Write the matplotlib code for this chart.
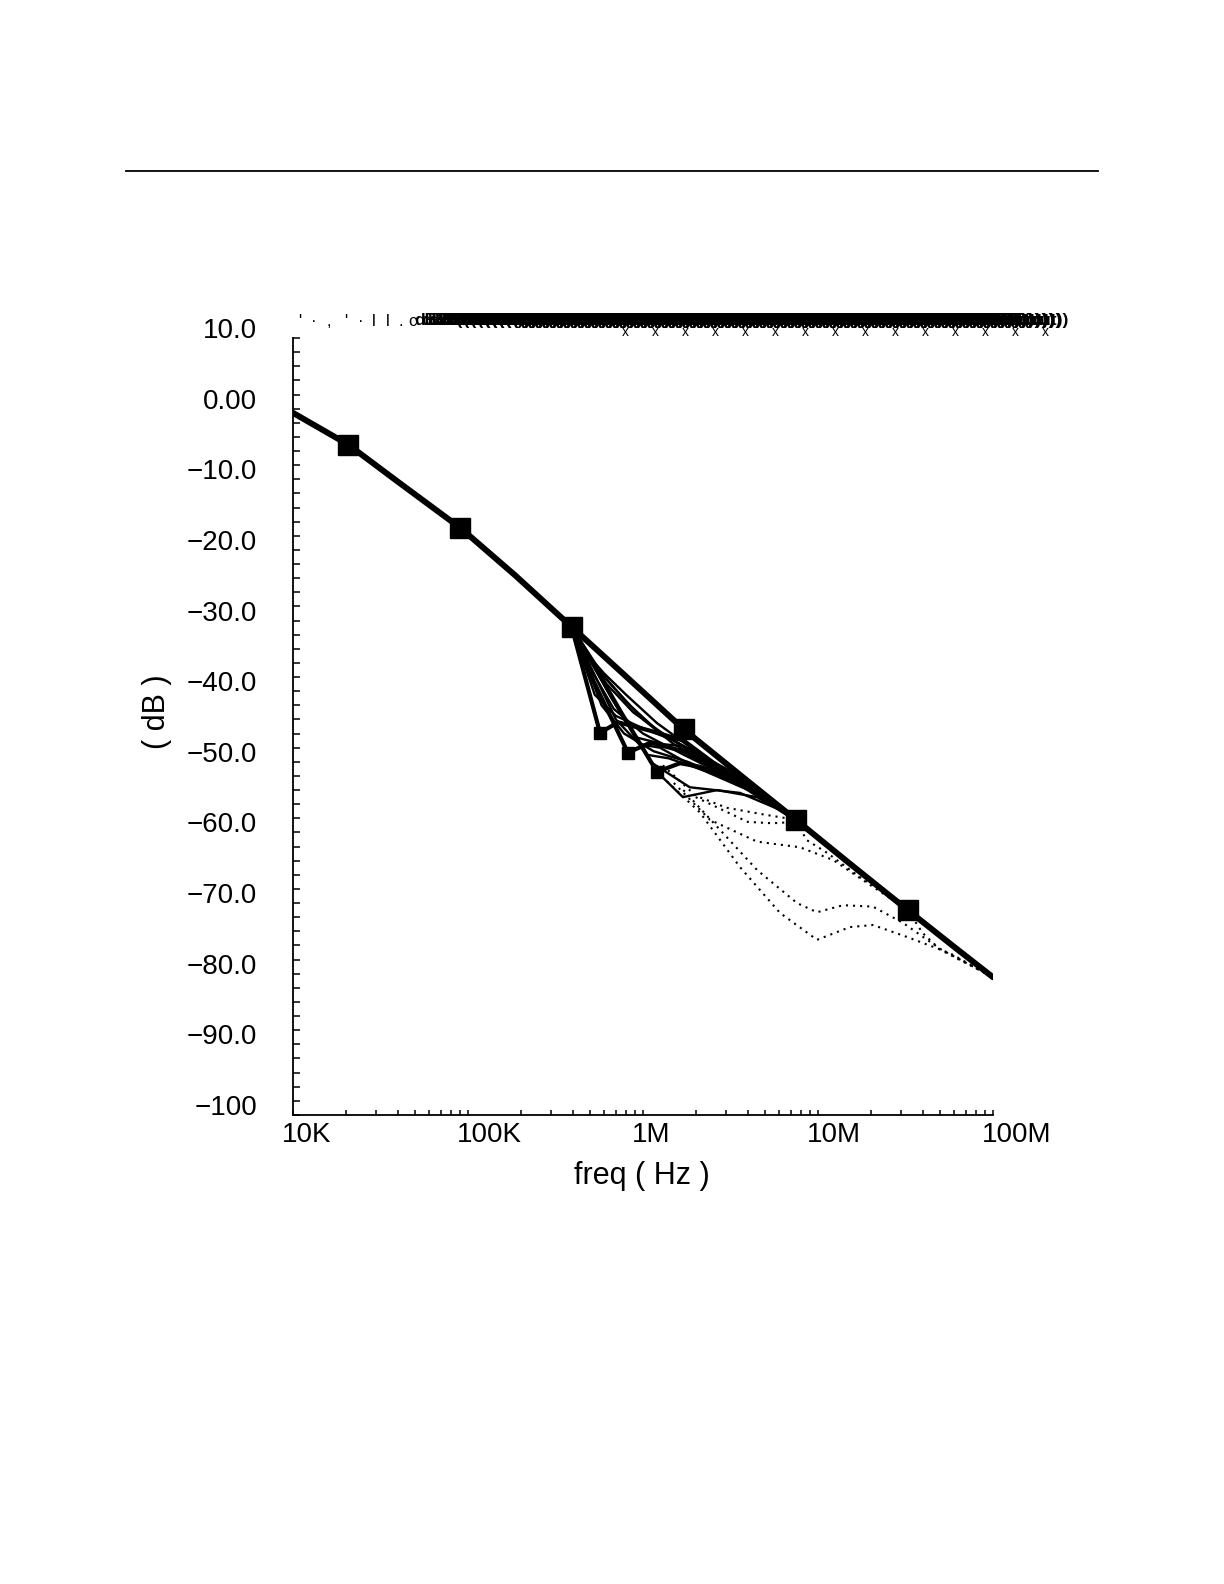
import matplotlib
matplotlib.use("Agg")
import matplotlib.pyplot as plt
import numpy as np
from matplotlib.lines import Line2D

plt.rcParams['font.family'] = ['Liberation Sans', 'DejaVu Sans']

# main (envelope) response
freq_main = [1e4, 20.7e3, 40e3, 90.6e3, 186e3, 300e3, 391e3, 700e3, 1.71e6,
             4e6, 7.47e6, 15e6, 32.6e6, 60e6, 1e8]
db_main = [-0.6, -5.1, -10.4, -16.9, -23.6, -28.3, -30.9, -36.6, -45.4,
           -52.8, -58.2, -64.3, -71.0, -76.2, -80.5]

marker_freq = [20.7e3, 90.6e3, 391e3, 1.71e6, 7.47e6, 32.6e6]
marker_db = [-5.1, -16.9, -30.9, -45.4, -58.2, -71.0]

# traces with the sharp dips just after 400K
zigzag_traces = [
    ([391e3, 568e3, 720e3, 1.1e6, 1.71e6, 3e6, 7.47e6],
     [-30.9, -45.9, -44.4, -45.6, -47.0, -51.5, -58.2]),
    ([391e3, 520e3, 820e3, 1.1e6, 1.71e6, 3.5e6, 7.47e6],
     [-30.9, -38.5, -48.7, -47.3, -48.5, -53.0, -58.2]),
    ([391e3, 750e3, 1.2e6, 1.63e6, 2.12e6, 3.02e6, 4.25e6, 7.47e6],
     [-30.9, -43.0, -51.4, -50.2, -50.7, -52.1, -53.6, -58.2]),
]

# bundle of solid traces between the dips and the envelope
solid_traces = [
    ([391e3, 640e3, 900e3, 1.3e6, 1.71e6, 7.47e6],
     [-30.9, -40.0, -46.5, -47.5, -47.8, -58.2]),
    ([391e3, 600e3, 1.0e6, 1.5e6, 2.5e6, 7.47e6],
     [-30.9, -38.0, -44.0, -47.5, -50.5, -58.2]),
    ([391e3, 560e3, 800e3, 1.2e6, 2.0e6, 7.47e6],
     [-30.9, -37.0, -41.5, -45.5, -49.0, -58.2]),
    ([391e3, 480e3, 680e3, 1.0e6, 1.71e6, 3e6, 7.47e6],
     [-30.9, -36.0, -42.5, -46.0, -49.0, -52.0, -58.2]),
    ([391e3, 660e3, 1.05e6, 1.4e6, 2.4e6, 4.5e6, 7.47e6],
     [-30.9, -41.0, -49.0, -49.5, -51.5, -54.5, -58.2]),
    ([391e3, 530e3, 700e3, 950e3, 1.5e6, 3e6, 7.47e6],
     [-30.9, -40.5, -43.5, -45.0, -47.0, -51.0, -58.2]),
    ([391e3, 500e3, 620e3, 880e3, 1.3e6, 2.2e6, 7.47e6],
     [-30.9, -35.5, -39.0, -43.0, -46.0, -49.5, -58.2]),
    ([391e3, 580e3, 780e3, 1.15e6, 1.8e6, 3.5e6, 7.47e6],
     [-30.9, -42.0, -46.0, -48.5, -50.0, -53.0, -58.2]),
    ([391e3, 450e3, 600e3, 800e3, 1.2e6, 2.0e6, 7.47e6],
     [-30.9, -34.0, -37.5, -40.5, -44.5, -48.5, -58.2]),
    ([391e3, 700e3, 950e3, 1.25e6, 1.9e6, 4e6, 7.47e6],
     [-30.9, -44.0, -47.5, -48.0, -50.5, -54.0, -58.2]),
    ([1.2e6, 1.69e6, 2.65e6, 4.48e6, 6.5e6, 7.47e6],
     [-51.4, -55.0, -54.0, -55.0, -57.2, -58.2]),
    ([1.1e6, 1.85e6, 3.58e6, 6.07e6, 7.47e6],
     [-50.0, -53.6, -54.4, -56.8, -58.2]),
]
dip_freq = [568e3, 820e3, 1.2e6]
dip_db = [-45.9, -48.7, -51.4]

# dotted traces falling below the envelope
dotted_traces = [
    ([1.2e6, 2.12e6, 3.58e6, 6.07e6, 9.87e6, 15.2e6, 20.6e6, 32.3e6, 56.8e6, 1e8],
     [-51.4, -57.2, -64.9, -71.4, -75.2, -73.4, -73.1, -74.8, -77.1, -80.5]),
    ([1.5e6, 2.41e6, 4.48e6, 7.89e6, 12.2e6, 20.6e6, 26.9e6, 32.6e6],
     [-53.0, -58.2, -61.3, -62.1, -63.9, -67.7, -69.6, -71.0]),
    ([1.7e6, 2.5e6, 4.48e6, 7.59e6, 9.87e6, 13.9e6, 20.6e6, 30.6e6, 50e6, 1e8],
     [-54.0, -58.5, -65.3, -70.0, -71.3, -70.3, -70.5, -72.8, -76.5, -80.5]),
    ([2.0e6, 3.96e6, 5.5e6, 7.47e6, 8.65e6, 11.3e6, 17.3e6, 22.6e6, 32.6e6],
     [-55.0, -58.5, -58.7, -58.5, -61.1, -62.9, -66.3, -68.1, -71.0]),
    ([32.6e6, 39.5e6, 50e6, 64e6, 1e8],
     [-71.0, -74.2, -76.6, -78.0, -80.5]),
    ([1.3e6, 2.0e6, 3.0e6, 5.0e6, 7.47e6],
     [-50.5, -54.8, -56.5, -57.5, -58.2]),
]

x_tick_labels = ['10K', '100K', '1M', '10M', '100M']
x_tick_freq = [1e4, 1e5, 1e6, 1e7, 1e8]
y_tick_db = [10, 0, -10, -20, -30, -40, -50, -60, -70, -80, -90, -100]
y_tick_labels = ['10.0', '0.00', '\u221210.0', '\u221220.0', '\u221230.0',
                 '\u221240.0', '\u221250.0', '\u221260.0', '\u221270.0',
                 '\u221280.0', '\u221290.0', '\u2212100']

W, H = 1224, 1584
fig = plt.figure(figsize=(W / 100, H / 100), dpi=100)
ax = fig.add_axes([293 / W, 1 - 1115 / H, 700 / W, 777 / H])
ax.set_xscale('log')
ax.set_xlim(1e4, 1e8)
ax.set_ylim(-100, 10)
for s in ['top', 'right']:
    ax.spines[s].set_visible(False)
for s in ['left', 'bottom']:
    ax.spines[s].set_linewidth(1.3)

ax.set_xticks(x_tick_freq)
ax.set_xticks([m * d for d in [1e4, 1e5, 1e6, 1e7] for m in range(2, 10)],
              minor=True)
ax.set_yticks(np.arange(-100, 11, 2))
ax.tick_params(which='both', direction='in', labelbottom=False,
               labelleft=False, width=1.1)
ax.tick_params(axis='x', which='both', length=3.8)
ax.tick_params(axis='y', which='both', length=5)

for f, db in dotted_traces:
    ax.plot(f, db, color='black', lw=1.5, ls=(0, (1, 2.4)))
for f, db in solid_traces:
    ax.plot(f, db, color='black', lw=1.7)
for f, db in zigzag_traces:
    ax.plot(f, db, color='black', lw=3.0)
ax.plot(dip_freq, dip_db, ls='none', marker='s', ms=9, color='black')
ax.plot(freq_main, db_main, color='black', lw=4.3, solid_capstyle='round')
ax.plot(marker_freq, marker_db, ls='none', marker='s', ms=14, color='black')
ax.plot(marker_freq, marker_db, ls='none', marker='X', ms=15, color='black')

for f, lab in zip(x_tick_freq, x_tick_labels):
    ax.annotate(lab, xy=(f, 0), xycoords=('data', 'axes fraction'),
                xytext=(-11 * 0.72, -7 * 0.72), textcoords='offset points',
                ha='left', va='top', fontsize=20)
for v, lab in zip(y_tick_db, y_tick_labels):
    ax.annotate(lab, xy=(0, v), xycoords=('axes fraction', 'data'),
                xytext=(-36 * 0.72, 0), textcoords='offset points',
                ha='right', va='baseline', fontsize=20)

fig.text(642 / W, 1 - 1176 / H, 'freq ( Hz )', ha='center', va='center',
         fontsize=22)
fig.text(157 / W, 1 - 712 / H, '( dB )', ha='center', va='center',
         rotation=90, fontsize=22)

# page rule
fig.add_artist(Line2D([126 / W, 1098 / W], [1 - 171 / H, 1 - 171 / H],
                      color='black', lw=1.3))

# overlapping trace labels along the top
for x, ch in zip([298, 311, 327, 344, 358, 372, 386, 398, 408],
                 ["'", "\u00b7", ",", "'", "\u00b7", "l", "l", ".", "c"]):
    fig.text(x / W, 1 - 321 / H, ch, ha='left', va='center', fontsize=12)
for x in range(414, 958, 7):
    fig.text(x / W, 1 - 321 / H, 'dB20(VF(out))', ha='left', va='center',
             fontsize=12.5, fontweight='bold')
for x in range(622, 1056, 30):
    fig.text(x / W, 1 - 332 / H, 'x', ha='left', va='center', fontsize=10)

fig.savefig('out.png', dpi=100)
